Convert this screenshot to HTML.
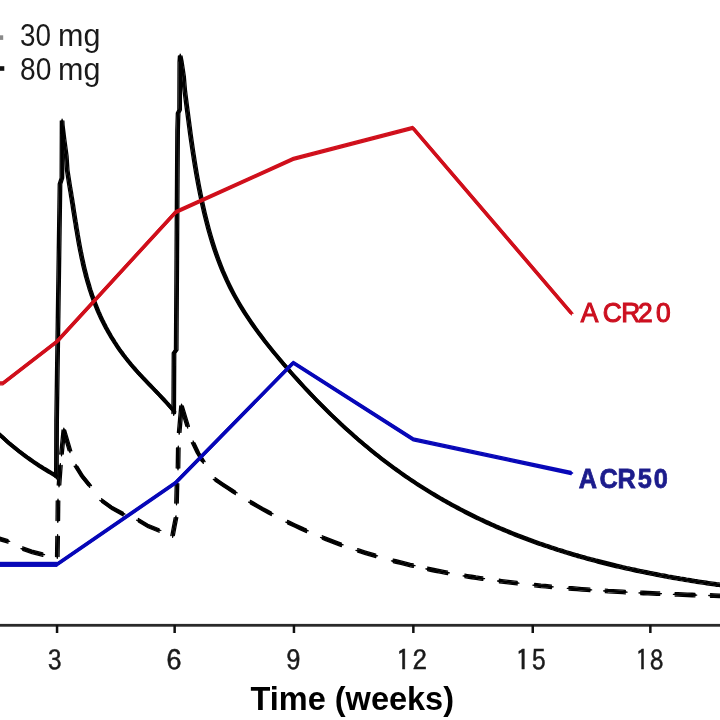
<!DOCTYPE html>
<html><head><meta charset="utf-8"><title>PK and ACR response over time</title>
<style>
html,body{margin:0;padding:0;background:#fff;width:720px;height:720px;overflow:hidden}
svg{display:block;filter:blur(0.6px)}
text{font-family:"Liberation Sans",Arial,sans-serif;}
.lg{font-size:31px;fill:#1a1a1a}
.tk{font-family:"IPAGothic","Liberation Sans",sans-serif;font-size:26.7px;fill:#1a1a1a;stroke:#1a1a1a;stroke-width:0.45px}
.ax{font-size:32.5px;font-weight:bold;fill:#000}
.a20{font-size:27.3px;fill:#cc1020;stroke:#cc1020;stroke-width:1.1px}
.a50{font-size:27.9px;font-weight:bold;fill:#1c1c8c;stroke:#1c1c8c;stroke-width:0.8px}
</style></head>
<body>
<svg width="720" height="720" viewBox="0 0 720 720">
<rect width="720" height="720" fill="#fff"/>
<g class="chart">
<rect x="0" y="35.3" width="3.2" height="4.6" fill="#8a8a8a"/>
<rect x="0" y="66.2" width="4.3" height="4.6" fill="#111"/>
<text y="45.5" class="lg"><tspan x="20.04" textLength="30.95" lengthAdjust="spacingAndGlyphs">30</tspan> <tspan x="58.07" textLength="42.39" lengthAdjust="spacingAndGlyphs">mg</tspan></text>
<text y="80.4" class="lg"><tspan x="20.08" textLength="31.32" lengthAdjust="spacingAndGlyphs">80</tspan> <tspan x="58.07" textLength="42.39" lengthAdjust="spacingAndGlyphs">mg</tspan></text>
<g fill="none" stroke="#000" stroke-width="1.3" stroke-linejoin="round" stroke-linecap="round"><path id="c80" d="M-12.0,423.1 L-10.0,425.2 L-8.0,427.2 L-6.0,429.2 L-4.0,431.2 L-2.0,433.1 L0.0,435.0 L2.0,436.8 L4.0,438.6 L6.0,440.4 L8.0,442.2 L10.0,443.9 L12.0,445.6 L14.0,447.2 L16.0,448.8 L18.0,450.4 L20.0,452.0 L22.0,453.5 L24.0,455.1 L26.0,456.5 L28.0,458.0 L30.0,459.4 L32.0,460.8 L34.0,462.2 L36.0,463.5 L38.0,464.9 L40.0,466.2 L42.0,467.4 L44.0,468.7 L46.0,469.9 L48.0,471.1 L50.0,472.3 L52.0,473.5 L54.0,474.6 L56.0,475.7 L56.4,477.2 L56.6,420.0 L60.0,184.0 L61.9,178.0 L62.1,121.0 L62.1,121.0 L62.3,125.0 L64.0,139.0 L66.3,156.0 L67.2,170.0 L69.7,186.2 L70.1,188.3 L70.4,190.3 L70.8,192.4 L71.1,194.5 L71.4,196.6 L71.8,198.7 L72.1,200.7 L72.4,202.8 L72.8,204.9 L73.1,207.1 L73.4,209.2 L73.7,211.3 L74.1,213.4 L74.4,215.5 L74.7,217.6 L75.1,219.8 L75.4,221.9 L75.8,224.0 L76.1,226.1 L76.4,228.3 L76.8,230.4 L77.2,232.5 L77.5,234.7 L77.9,236.8 L78.3,239.0 L78.6,241.1 L79.0,243.2 L79.4,245.4 L79.8,247.5 L80.2,249.6 L80.6,251.7 L81.1,253.9 L81.5,256.0 L81.9,258.1 L82.4,260.2 L82.9,262.4 L83.3,264.5 L83.8,266.6 L84.3,268.7 L84.8,270.8 L85.4,272.9 L85.9,275.0 L86.4,277.1 L87.0,279.1 L87.6,281.2 L88.2,283.3 L88.8,285.3 L89.4,287.4 L90.0,289.5 L90.7,291.5 L91.4,293.5 L92.0,295.6 L92.8,297.6 L93.5,299.6 L94.2,301.6 L95.0,303.6 L95.8,305.6 L96.6,307.5 L97.4,309.5 L98.2,311.5 L99.1,313.4 L99.9,315.3 L100.8,317.3 L101.7,319.2 L102.7,321.1 L103.6,323.0 L104.6,324.9 L105.5,326.8 L106.5,328.6 L107.6,330.5 L108.6,332.4 L109.7,334.2 L110.7,336.0 L111.8,337.8 L113.0,339.7 L114.1,341.5 L115.2,343.2 L116.4,345.0 L117.6,346.8 L118.8,348.6 L120.0,350.3 L121.3,352.0 L122.6,353.8 L123.8,355.5 L125.1,357.2 L126.5,358.9 L127.8,360.6 L129.2,362.2 L130.5,363.9 L131.9,365.6 L133.4,367.2 L134.8,368.8 L136.2,370.5 L137.7,372.1 L139.1,373.7 L140.6,375.3 L142.1,376.9 L143.6,378.5 L145.1,380.0 L146.6,381.6 L148.1,383.2 L149.6,384.7 L151.1,386.3 L152.6,387.9 L154.1,389.4 L155.6,391.0 L157.1,392.5 L158.6,394.1 L160.1,395.6 L161.5,397.2 L163.0,398.7 L164.4,400.3 L165.8,401.9 L167.3,403.4 L168.7,405.0 L170.0,406.6 L171.4,408.1 L172.7,409.7 L174.0,411.3 L173.7,413.5 L174.0,353.0 L176.2,350.0 L177.6,130.0 L178.1,113.0 L179.6,110.0 L179.8,62.0 L180.2,56.0 L180.2,56.0 L181.4,62.0 L183.6,76.7 L184.7,90.0 L186.5,104.4 L188.6,120.4 L190.6,135.6 L192.6,149.5 L194.6,162.4 L196.6,174.3 L198.6,185.3 L200.6,195.4 L202.6,204.8 L204.6,213.6 L206.6,221.7 L208.6,229.3 L210.6,236.4 L212.6,243.0 L214.6,249.2 L216.6,255.0 L218.6,260.6 L220.6,265.8 L222.6,270.7 L224.6,275.3 L226.6,279.8 L228.6,284.0 L230.6,288.1 L232.6,292.0 L234.6,295.7 L236.6,299.3 L238.6,302.8 L240.6,306.2 L242.6,309.4 L244.6,312.6 L246.6,315.7 L248.6,318.7 L250.6,321.7 L252.6,324.5 L254.6,327.4 L256.6,330.1 L258.6,332.9 L260.6,335.5 L262.6,338.2 L264.6,340.8 L266.6,343.3 L268.6,345.9 L270.6,348.4 L272.6,350.9 L274.6,353.3 L276.6,355.7 L278.6,358.1 L280.6,360.5 L282.6,362.9 L284.6,365.2 L286.6,367.5 L288.6,369.8 L290.6,372.1 L292.6,374.4 L294.6,376.6 L296.6,378.8 L298.6,381.0 L300.6,383.2 L302.6,385.4 L304.6,387.6 L306.6,389.7 L308.6,391.8 L310.6,394.0 L312.6,396.0 L314.6,398.1 L316.6,400.2 L318.6,402.2 L320.6,404.3 L322.6,406.3 L324.6,408.3 L326.6,410.3 L328.6,412.2 L330.6,414.2 L332.6,416.1 L334.6,418.0 L336.6,419.9 L338.6,421.8 L340.6,423.7 L342.6,425.6 L344.6,427.4 L346.6,429.2 L348.6,431.0 L350.6,432.8 L352.6,434.6 L354.6,436.4 L356.6,438.1 L358.6,439.9 L360.6,441.6 L362.6,443.3 L364.6,445.0 L366.6,446.6 L368.6,448.3 L370.6,449.9 L372.6,451.6 L374.6,453.2 L376.6,454.8 L378.6,456.3 L380.6,457.9 L382.6,459.5 L384.6,461.0 L386.6,462.5 L388.6,464.0 L390.6,465.5 L392.6,467.0 L394.6,468.5 L396.6,469.9 L398.6,471.3 L400.6,472.8 L402.6,474.2 L404.6,475.6 L406.6,477.0 L408.6,478.3 L410.6,479.7 L412.6,481.0 L414.6,482.3 L416.6,483.7 L418.6,485.0 L420.6,486.3 L422.6,487.5 L424.6,488.8 L426.6,490.0 L428.6,491.3 L430.6,492.5 L432.6,493.7 L434.6,494.9 L436.6,496.1 L438.6,497.3 L440.6,498.5 L442.6,499.6 L444.6,500.8 L446.6,501.9 L448.6,503.0 L450.6,504.1 L452.6,505.2 L454.6,506.3 L456.6,507.4 L458.6,508.4 L460.6,509.5 L462.6,510.5 L464.6,511.6 L466.6,512.6 L468.6,513.6 L470.6,514.6 L472.6,515.6 L474.6,516.6 L476.6,517.6 L478.6,518.5 L480.6,519.5 L482.6,520.4 L484.6,521.4 L486.6,522.3 L488.6,523.2 L490.6,524.1 L492.6,525.0 L494.6,525.9 L496.6,526.8 L498.6,527.6 L500.6,528.5 L502.6,529.3 L504.6,530.2 L506.6,531.0 L508.6,531.8 L510.6,532.7 L512.6,533.5 L514.6,534.3 L516.6,535.1 L518.6,535.9 L520.6,536.6 L522.6,537.4 L524.6,538.2 L526.6,538.9 L528.6,539.7 L530.6,540.4 L532.6,541.1 L534.6,541.9 L536.6,542.6 L538.6,543.3 L540.6,544.0 L542.6,544.7 L544.6,545.4 L546.6,546.0 L548.6,546.7 L550.6,547.4 L552.6,548.0 L554.6,548.7 L556.6,549.3 L558.6,550.0 L560.6,550.6 L562.6,551.2 L564.6,551.9 L566.6,552.5 L568.6,553.1 L570.6,553.7 L572.6,554.3 L574.6,554.9 L576.6,555.5 L578.6,556.0 L580.6,556.6 L582.6,557.2 L584.6,557.7 L586.6,558.3 L588.6,558.8 L590.6,559.4 L592.6,559.9 L594.6,560.4 L596.6,561.0 L598.6,561.5 L600.6,562.0 L602.6,562.5 L604.6,563.0 L606.6,563.5 L608.6,564.0 L610.6,564.5 L612.6,565.0 L614.6,565.5 L616.6,566.0 L618.6,566.4 L620.6,566.9 L622.6,567.4 L624.6,567.8 L626.6,568.3 L628.6,568.7 L630.6,569.2 L632.6,569.6 L634.6,570.0 L636.6,570.5 L638.6,570.9 L640.6,571.3 L642.6,571.7 L644.6,572.1 L646.6,572.5 L648.6,572.9 L650.6,573.3 L652.6,573.7 L654.6,574.1 L656.6,574.5 L658.6,574.9 L660.6,575.3 L662.6,575.6 L664.6,576.0 L666.6,576.4 L668.6,576.8 L670.6,577.1 L672.6,577.5 L674.6,577.8 L676.6,578.2 L678.6,578.5 L680.6,578.9 L682.6,579.2 L684.6,579.5 L686.6,579.9 L688.6,580.2 L690.6,580.5 L692.6,580.8 L694.6,581.2 L696.6,581.5 L698.6,581.8 L700.6,582.1 L702.6,582.4 L704.6,582.7 L706.6,583.0 L708.6,583.3 L710.6,583.6 L712.6,583.9 L714.6,584.2 L716.6,584.5 L718.6,584.7 L720.6,585.0 L722.6,585.3 L724.6,585.6 L726.6,585.8 L728.6,586.1 L730.6,586.4 L732.6,586.6 L734.6,586.9 L735.0,587.0" transform="translate(0 -1.75)"/><use href="#c80" y="1.17"/><use href="#c80" y="2.33"/><use href="#c80" y="3.50"/><use href="#c80" x="-1.75" y="1.75"/><use href="#c80" x="-0.58" y="1.75"/><use href="#c80" x="0.58" y="1.75"/><use href="#c80" x="1.75" y="1.75"/></g>
<g fill="none" stroke="#000" stroke-width="1.3" stroke-linejoin="round" stroke-linecap="round"><path id="c30" d="M-6.1,537.1 L8.0,541.4 M22.7,548.6 L32.0,551.8 L42.8,554.6 M57.3,556.5 L57.6,536.5 M57.8,520.6 L58.0,501.0 M59.0,485.0 L60.4,465.5 M61.5,454.0 L63.8,430.0 L70.0,450.9 M75.9,466.2 L82.0,476.0 L89.7,485.5 M101.6,500.4 L112.0,508.0 L123.2,514.1 M138.4,520.2 L148.0,526.0 L159.1,530.5 M172.6,535.5 L174.3,526.4 L176.0,517.6 M176.5,503.0 L177.0,483.7 M178.0,468.0 L178.3,448.0 M179.2,432.4 L181.5,406.0 L187.7,426.4 M193.1,442.8 L198.0,453.0 L203.3,461.6 M215.1,479.4 L218.2,481.5 L222.9,484.7 L227.6,487.8 L232.3,490.9 L235.3,492.8 M250.4,502.1 L253.6,503.9 L258.5,506.7 L263.3,509.5 L268.2,512.1 L271.3,513.8 M287.6,522.1 L290.3,523.4 L294.8,525.5 L299.3,527.6 L303.8,529.7 L306.5,530.8 M322.3,537.5 L325.0,538.6 L329.6,540.4 L334.1,542.1 L338.7,543.8 L341.4,544.8 M357.7,550.4 L360.2,551.2 L364.6,552.6 L368.9,553.9 L373.3,555.2 L375.8,555.9 M393.2,560.8 L396.0,561.5 L400.8,562.7 L405.6,563.9 L410.4,565.1 L413.3,565.7 M427.6,568.9 L430.4,569.5 L435.2,570.5 L440.0,571.4 L444.8,572.3 L447.6,572.9 M464.9,575.9 L467.3,576.3 L471.7,577.0 L476.0,577.7 L480.4,578.3 L482.8,578.7 M499.3,581.0 L501.7,581.3 L506.1,581.9 L510.4,582.4 L514.8,582.9 L517.2,583.2 M534.7,585.1 L536.9,585.3 L541.0,585.8 L545.2,586.2 L549.3,586.6 L551.5,586.8 M569.0,588.3 L572.0,588.5 L577.0,588.9 L581.9,589.3 L586.9,589.6 L589.9,589.9 M605.3,590.9 L608.1,591.1 L612.9,591.3 L617.7,591.6 L622.5,591.9 L625.3,592.1 M640.7,592.9 L643.3,593.0 L647.9,593.2 L652.5,593.4 L657.1,593.6 L659.7,593.7 M675.1,594.3 L677.9,594.4 L682.7,594.6 L687.4,594.8 L692.2,595.0 L695.0,595.1 M710.5,595.5 L713.8,595.6 L719.1,595.8 L724.4,595.9 L729.7,596.1 L733.0,596.1" transform="translate(0 -1.75)"/><use href="#c30" y="1.17"/><use href="#c30" y="2.33"/><use href="#c30" y="3.50"/><use href="#c30" x="-1.75" y="1.75"/><use href="#c30" x="-0.58" y="1.75"/><use href="#c30" x="0.58" y="1.75"/><use href="#c30" x="1.75" y="1.75"/></g>
<g fill="none" stroke="#d0101c" stroke-width="1.3" stroke-linejoin="round" stroke-linecap="round"><path id="a20" d="M-30.0,383.5 L3.0,383.3 L57.0,341.5 L175.6,212.2 L293.3,158.9 L412.8,127.8 L571.5,313.3" transform="translate(0 -1.50)"/><use href="#a20" y="1.00"/><use href="#a20" y="2.00"/><use href="#a20" y="3.00"/><use href="#a20" x="-1.50" y="1.50"/><use href="#a20" x="-0.50" y="1.50"/><use href="#a20" x="0.50" y="1.50"/><use href="#a20" x="1.50" y="1.50"/></g>
<g fill="none" stroke="#0808b8" stroke-width="1.3" stroke-linejoin="round" stroke-linecap="round"><path id="a50" d="M-30.0,564.3 L57.2,564.3 L175.6,482.8 L293.3,362.8 L413.3,439.4 L571.1,473.0" transform="translate(0 -1.50)"/><use href="#a50" y="1.00"/><use href="#a50" y="2.00"/><use href="#a50" y="3.00"/><use href="#a50" x="-1.50" y="1.50"/><use href="#a50" x="-0.50" y="1.50"/><use href="#a50" x="0.50" y="1.50"/><use href="#a50" x="1.50" y="1.50"/></g>
<rect x="0" y="561.8" width="57.2" height="5.1" fill="#0808b8"/>
<rect x="0" y="623.9" width="720" height="2.8" fill="#2a2a2a"/>
<rect x="55.8" y="625" width="2.5" height="8" fill="#111"/>
<rect x="173.4" y="625" width="2.5" height="8" fill="#111"/>
<rect x="292.7" y="625" width="2.5" height="8" fill="#111"/>
<rect x="412.1" y="625" width="2.5" height="8" fill="#111"/>
<rect x="531.5" y="625" width="2.5" height="8" fill="#111"/>
<rect x="649.1" y="625" width="2.5" height="8" fill="#111"/>
<text x="45.79" y="670.3" class="tk" transform="scale(1.0402 1)">3</text>
<text x="143.40" y="670.3" class="tk" transform="scale(1.1594 1)">6</text>
<text x="261.25" y="670.3" class="tk" transform="scale(1.0944 1)">9</text>
<text x="364.26 379.25" y="670.3" class="tk" transform="scale(1.0875 1)">12</text>
<text x="479.26 494.05" y="670.3" class="tk" transform="scale(1.0759 1)">15</text>
<text x="639.56 654.23" y="670.3" class="tk" transform="scale(0.9935 1)">18</text>
<text x="250.5" y="710" class="ax">Time (weeks)</text>
<text x="601.86 624.67 643.73 661.15 679.76" y="322.5" class="a20" transform="scale(0.9649 1)">ACR20</text>
<text x="638.65 661.61 681.40 703.69 721.46" y="487.8" class="a50" transform="scale(0.9063 1)">ACR50</text>
</g>
</svg>
</body></html>
